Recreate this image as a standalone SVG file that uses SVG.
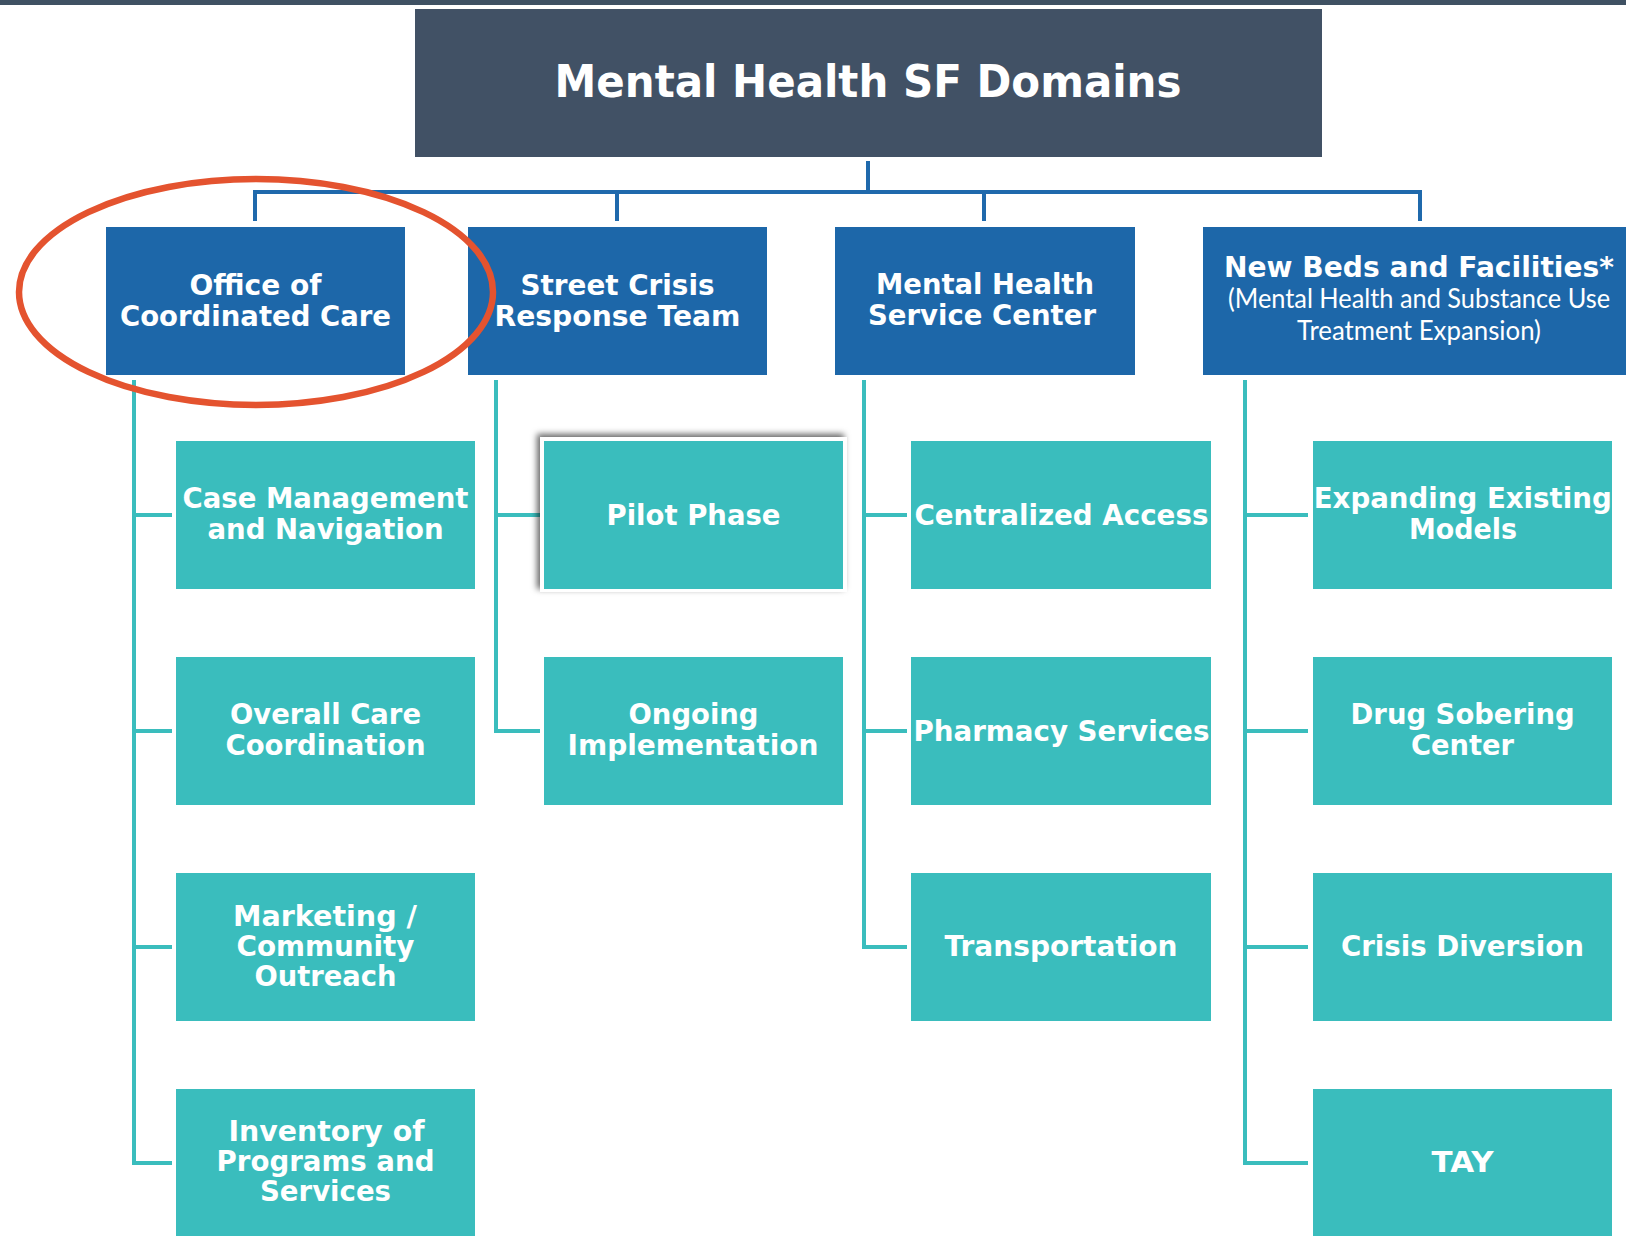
<svg xmlns="http://www.w3.org/2000/svg" width="1626" height="1236" viewBox="0 0 1626 1236">
<defs>
<filter id="shadow" x="-10%" y="-10%" width="120%" height="120%">
<feDropShadow dx="-3" dy="-3" stdDeviation="3" flood-color="#000" flood-opacity="0.6"/>
</filter>
</defs>
<style>
.title{fill:#415165}
.l1{fill:#1D67A9}
.l2{fill:#3ABDBD}
.t{font-family:"DejaVu Sans","Verdana",sans-serif;font-weight:bold;fill:#fff;text-anchor:middle}
.tt{font-size:44px}
.t1{font-size:28.5px}
.t2{font-size:28.5px}
.reg{font-family:"Lato","Open Sans",sans-serif;font-weight:normal;font-size:26px;fill:#fff;text-anchor:middle}
.cb{stroke:#1F69AC;stroke-width:4;fill:none}
.ct{stroke:#3ABDBD;stroke-width:4;fill:none}
</style>
<rect width="1626" height="1236" fill="#fff"/>
<rect x="0" y="0" width="1626" height="5" fill="#3F5163"/>

<g id="connectors">
<path class="cb" d="M868 161 V192 M255 192 H1420 M255 190 V221 M617 190 V221 M984 190 V221 M1420 190 V221"/>
<path class="ct" d="M134 380 V1163 H172 M134 515 H172 M134 731 H172 M134 947 H172"/>
<path class="ct" d="M496 380 V731 H540 M496 515 H540"/>
<path class="ct" d="M864 380 V947 H907 M864 515 H907 M864 731 H907"/>
<path class="ct" d="M1245 380 V1163 H1308 M1245 515 H1308 M1245 731 H1308 M1245 947 H1308"/>
</g>

<g id="root">
<rect class="title" x="415" y="9" width="907" height="148"/>
<text class="t tt" x="868" y="97" textLength="627" lengthAdjust="spacingAndGlyphs">Mental Health SF Domains</text>
</g>

<g id="occ">
<rect class="l1" x="106" y="227" width="299" height="148"/>
<text class="t t1" x="255.5" y="295" textLength="132" lengthAdjust="spacingAndGlyphs">Office of</text>
<text class="t t1" x="255.5" y="326" textLength="271" lengthAdjust="spacingAndGlyphs">Coordinated Care</text>
</g>
<g id="scrt">
<rect class="l1" x="468" y="227" width="299" height="148"/>
<text class="t t1" x="617.5" y="295" textLength="194" lengthAdjust="spacingAndGlyphs">Street Crisis</text>
<text class="t t1" x="617.5" y="326" textLength="246" lengthAdjust="spacingAndGlyphs">Response Team</text>
</g>
<g id="mhsc">
<rect class="l1" x="835" y="227" width="300" height="148"/>
<text class="t t1" x="985" y="294" textLength="218" lengthAdjust="spacingAndGlyphs">Mental Health</text>
<text class="t t1" x="982" y="325" textLength="228" lengthAdjust="spacingAndGlyphs">Service Center</text>
</g>
<g id="beds">
<rect class="l1" x="1203" y="227" width="430" height="148"/>
<text class="t t1" x="1419" y="277" textLength="390" lengthAdjust="spacingAndGlyphs">New Beds and Facilities*</text>
<text class="reg" x="1419" y="308" textLength="382" lengthAdjust="spacingAndGlyphs">(Mental Health and Substance Use</text>
<text class="reg" x="1419" y="340" textLength="244" lengthAdjust="spacingAndGlyphs">Treatment Expansion)</text>
</g>

<g id="case-management">
<rect class="l2" x="176" y="441" width="299" height="148"/>
<text class="t t2" x="325.5" y="508" textLength="286" lengthAdjust="spacingAndGlyphs">Case Management</text>
<text class="t t2" x="325.5" y="539" textLength="236" lengthAdjust="spacingAndGlyphs">and Navigation</text>
</g>
<g id="overall-care">
<rect class="l2" x="176" y="657" width="299" height="148"/>
<text class="t t2" x="325.5" y="724" textLength="191" lengthAdjust="spacingAndGlyphs">Overall Care</text>
<text class="t t2" x="325.5" y="755" textLength="200" lengthAdjust="spacingAndGlyphs">Coordination</text>
</g>
<g id="marketing">
<rect class="l2" x="176" y="873" width="299" height="148"/>
<text class="t t2" x="325" y="926" textLength="184" lengthAdjust="spacingAndGlyphs">Marketing /</text>
<text class="t t2" x="325.5" y="956" textLength="178" lengthAdjust="spacingAndGlyphs">Community</text>
<text class="t t2" x="325.5" y="986" textLength="142" lengthAdjust="spacingAndGlyphs">Outreach</text>
</g>
<g id="inventory">
<rect class="l2" x="176" y="1089" width="299" height="150"/>
<text class="t t2" x="326.5" y="1141" textLength="196" lengthAdjust="spacingAndGlyphs">Inventory of</text>
<text class="t t2" x="325.5" y="1171" textLength="218" lengthAdjust="spacingAndGlyphs">Programs and</text>
<text class="t t2" x="325.5" y="1201" textLength="131" lengthAdjust="spacingAndGlyphs">Services</text>
</g>

<g id="pilot-phase">
<rect x="540" y="437" width="307" height="155" fill="#fff" filter="url(#shadow)"/>
<rect class="l2" x="544" y="441" width="299" height="148"/>
<text class="t t2" x="693.5" y="525" textLength="174" lengthAdjust="spacingAndGlyphs">Pilot Phase</text>
</g>
<g id="ongoing">
<rect class="l2" x="544" y="657" width="299" height="148"/>
<text class="t t2" x="693.5" y="724" textLength="130" lengthAdjust="spacingAndGlyphs">Ongoing</text>
<text class="t t2" x="693" y="755" textLength="251" lengthAdjust="spacingAndGlyphs">Implementation</text>
</g>

<g id="centralized-access">
<rect class="l2" x="911" y="441" width="300" height="148"/>
<text class="t t2" x="1061.4" y="525" textLength="294" lengthAdjust="spacingAndGlyphs">Centralized Access</text>
</g>
<g id="pharmacy">
<rect class="l2" x="911" y="657" width="300" height="148"/>
<text class="t t2" x="1061.4" y="741" textLength="296" lengthAdjust="spacingAndGlyphs">Pharmacy Services</text>
</g>
<g id="transportation">
<rect class="l2" x="911" y="873" width="300" height="148"/>
<text class="t t2" x="1061" y="956" textLength="233" lengthAdjust="spacingAndGlyphs">Transportation</text>
</g>

<g id="expanding">
<rect class="l2" x="1313" y="441" width="299" height="148"/>
<text class="t t2" x="1462.7" y="508" textLength="298" lengthAdjust="spacingAndGlyphs">Expanding Existing</text>
<text class="t t2" x="1463" y="539" textLength="108" lengthAdjust="spacingAndGlyphs">Models</text>
</g>
<g id="drug-sobering">
<rect class="l2" x="1313" y="657" width="299" height="148"/>
<text class="t t2" x="1462.6" y="724" textLength="224" lengthAdjust="spacingAndGlyphs">Drug Sobering</text>
<text class="t t2" x="1462.5" y="755" textLength="103" lengthAdjust="spacingAndGlyphs">Center</text>
</g>
<g id="crisis-diversion">
<rect class="l2" x="1313" y="873" width="299" height="148"/>
<text class="t t2" x="1462.4" y="956" textLength="243" lengthAdjust="spacingAndGlyphs">Crisis Diversion</text>
</g>
<g id="tay">
<rect class="l2" x="1313" y="1089" width="299" height="150"/>
<text class="t t2" x="1462.6" y="1172" textLength="62" lengthAdjust="spacingAndGlyphs">TAY</text>
</g>

<g id="highlight">
<ellipse cx="256" cy="292" rx="237" ry="113" fill="none" stroke="#E4532F" stroke-width="6.5"/>
</g>
</svg>
